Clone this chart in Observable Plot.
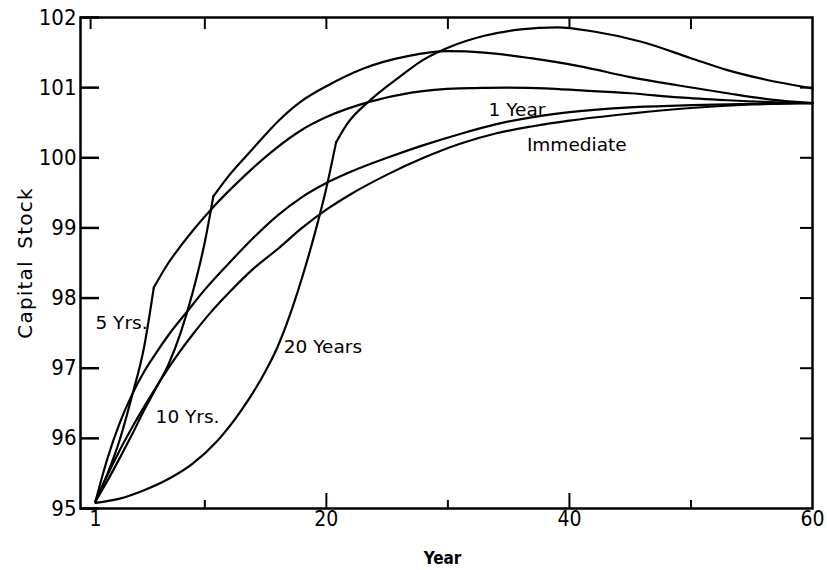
<!DOCTYPE html>
<html>
<head>
<meta charset="utf-8">
<script src="https://cdn.jsdelivr.net/npm/d3@7"></script>
<script src="https://cdn.jsdelivr.net/npm/@observablehq/plot@0.6"></script>
<style>
  html, body { margin: 0; padding: 0; background: #fff; }
  #chart svg { display: block; }
</style>
</head>
<body>
<div id="chart"></div>
<script>
// ---- Data (Year vs Capital Stock) ----
const immYears   = [1,2,3,4,5,6,7,8,9,10.5,12,14,16,18,20,22,25,28,31,34,37,40,45,50,55,60];
const immValues  = [95.1,95.48,95.83,96.15,96.45,96.73,97.0,97.25,97.48,97.8,98.08,98.42,98.7,99.0,99.26,99.48,99.76,100.0,100.2,100.35,100.45,100.53,100.63,100.71,100.76,100.78];

const oneYears   = [1,2,3,4,5,6,7,8.6,10,12,14,16,18,20,22,25,28,31,34,37,40,45,50,55,60];
const oneValues  = [95.1,95.72,96.22,96.62,96.95,97.22,97.47,97.82,98.12,98.5,98.86,99.18,99.44,99.64,99.8,100.0,100.18,100.34,100.48,100.58,100.65,100.72,100.75,100.77,100.78];

const fiveYears  = [1,2,3,4,5,5.8,7,8,10.7,13,15.6,18,20,23.6,27,31,35,38,41,45,49,53,57,60];
const fiveValues = [95.1,95.5,95.98,96.6,97.3,98.15,98.5,98.74,99.3,99.7,100.1,100.4,100.58,100.8,100.93,100.99,101.0,100.99,100.96,100.92,100.86,100.82,100.79,100.78];
const fiveKink   = 5.8;

const tenYears   = [1,2,3,4,5,6,7,8,9,10,10.7,12,13.8,16.2,17.9,20,23,26.7,30,33,36.8,41,45,49,53,56.6,60];
const tenValues  = [95.1,95.4,95.72,96.05,96.4,96.72,97.05,97.5,98.08,98.8,99.45,99.75,100.1,100.55,100.8,101.02,101.27,101.45,101.52,101.5,101.42,101.3,101.15,101.03,100.92,100.83,100.78];
const tenKink    = 10.7;

const twentyYears  = [1,3,5,7,9,11,13,15,16,17,18,19,20,20.8,21.7,23.6,26,28,30,33,36,39,42,46,50,53,56,60];
const twentyValues = [95.08,95.14,95.26,95.42,95.64,95.96,96.4,96.96,97.31,97.76,98.29,98.89,99.57,100.22,100.48,100.82,101.15,101.4,101.57,101.74,101.83,101.86,101.8,101.65,101.42,101.25,101.12,100.99];
const twentyKink   = 20.8;

const yTickValues = [95,96,97,98,99,100,101,102];
const xTickLabels = [1,20,40,60];
const xMajorTicks = [20,40];
const xMinorTicks = [10,30,50];
const xTopTicks   = [0.6,10,20,30,40,50];

const labelTexts  = ["5 Yrs.","10 Yrs.","20 Years","1 Year","Immediate"];
const labelYears  = [1.0, 5.95, 16.5, 33.35, 36.5];
const labelValues = [97.64, 96.3, 97.3, 100.68, 100.18];

// ---- Build the table ----
function rows(name, years, values, kink) {
  const out = [];
  years.forEach((yr, i) => {
    if (kink == null) { out.push({name, seg: name, year: yr, value: values[i]}); return; }
    if (yr <= kink) out.push({name, seg: name + "-a", year: yr, value: values[i]});
    if (yr >= kink) out.push({name, seg: name + "-b", year: yr, value: values[i]});
  });
  return out;
}
const table = [
  ...rows("Immediate", immYears, immValues),
  ...rows("1 Year", oneYears, oneValues),
  ...rows("5 Yrs.", fiveYears, fiveValues, fiveKink),
  ...rows("10 Yrs.", tenYears, tenValues, tenKink),
  ...rows("20 Years", twentyYears, twentyValues, twentyKink)
];
const labels = labelTexts.map((t, i) => ({text: t, year: labelYears[i], value: labelValues[i]}));

const W = 827, H = 570, mT = 17, mR = 15, mB = 62, mL = 80;
const innerW = W - mL - mR, innerH = H - mT - mB;

const chart = Plot.plot({
  width: W, height: H,
  marginTop: mT, marginRight: mR, marginBottom: mB, marginLeft: mL,
  style: {fontFamily: "'DejaVu Sans', sans-serif", background: "#fff", color: "#000", overflow: "visible"},
  x: {domain: [-0.23, 60], axis: null},
  y: {domain: [95, 102], axis: null},
  marks: [
    Plot.line(table, {x: "year", y: "value", z: "seg", curve: "monotone-x", stroke: "#000", strokeWidth: 2.2}),
    Plot.frame({stroke: "#000", strokeWidth: 2.5}),
    // left ticks (inward)
    Plot.tickY(yTickValues, {y: d => d, insetRight: innerW - 19, stroke: "#000", strokeWidth: 2.5}),
    // right ticks (inward)
    Plot.tickY(yTickValues.slice(1, -1), {y: d => d, insetLeft: innerW - 12, stroke: "#000", strokeWidth: 2}),
    // bottom ticks (inward)
    Plot.tickX(xMajorTicks, {x: d => d, insetTop: innerH - 15, stroke: "#000", strokeWidth: 2}),
    Plot.tickX(xMinorTicks, {x: d => d, insetTop: innerH - 8, stroke: "#000", strokeWidth: 2}),
    // top ticks (inward)
    Plot.tickX(xTopTicks, {x: d => d, insetBottom: innerH - 12, stroke: "#000", strokeWidth: 2}),
    // y tick labels
    Plot.text(yTickValues, {y: d => d, text: d => String(d), frameAnchor: "left", textAnchor: "end", dx: -4,
      fontFamily: "'DejaVu Sans Condensed', 'DejaVu Sans', sans-serif", fontSize: 22, fill: "#000"}),
    // x tick labels
    Plot.text(xTickLabels, {x: d => d, text: d => String(d), frameAnchor: "bottom", lineAnchor: "top", dy: 3,
      fontFamily: "'DejaVu Sans Condensed', 'DejaVu Sans', sans-serif", fontSize: 21, fill: "#000"}),
    // axis titles
    Plot.text(["Year"], {frameAnchor: "bottom", lineAnchor: "top", dy: 43, dx: -4, fontSize: 17, fontWeight: "bold",
      fontFamily: "'DejaVu Sans Condensed', 'DejaVu Sans', sans-serif", fill: "#000"}),
    Plot.text(["Capital Stock"], {frameAnchor: "left", textAnchor: "middle", dx: -55, rotate: -90, fontSize: 20, fill: "#000"}),
    // curve labels
    Plot.text(labels, {x: "year", y: "value", text: "text", textAnchor: "start", fontSize: 18.5, fill: "#000"})
  ]
});
// letter spacing on the y title, as in the reference
d3.select(chart).selectAll("text").filter(function() { return this.textContent === "Capital Stock"; })
  .attr("letter-spacing", "1.2px").attr("word-spacing", "4px");
document.getElementById("chart").appendChild(chart);
</script>
</body>
</html>
